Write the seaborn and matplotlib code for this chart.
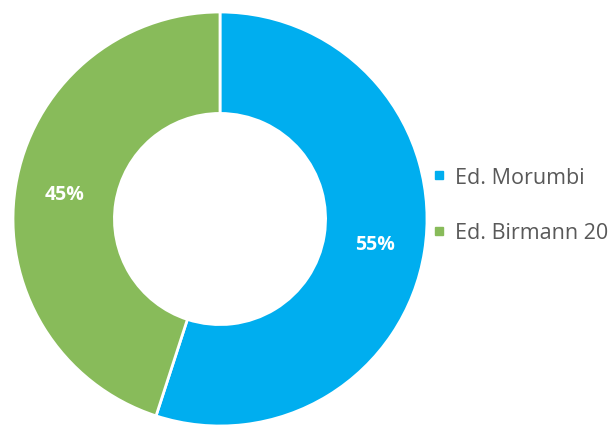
import matplotlib
matplotlib.use("Agg")
import matplotlib.pyplot as plt
import seaborn as sns
from matplotlib.lines import Line2D

# ---------------------------------------------------------------------------
labels = ["Ed. Morumbi", "Ed. Birmann 20"]
values = [55, 45]
colors = ["#00AEEF", "#88BB5A"]

# ---------------------------------------------------------------------------
sns.set_style("white")
plt.rcParams['font.family'] = ['Open Sans', 'DejaVu Sans']

fig = plt.figure(figsize=(6.14, 4.27), dpi=100)
W, H = 614, 427
cx, cy, r = 220, 220, 207
ax = fig.add_axes([(cx - r) / W, (H - cy - r) / H, 2 * r / W, 2 * r / H])

wedges, texts, autotexts = ax.pie(
    values, colors=colors, startangle=90, counterclock=False,
    autopct='%1.0f%%', pctdistance=0.76,
    wedgeprops=dict(width=0.49, edgecolor='white', linewidth=2),
    textprops=dict(color='white', fontsize=14, fontweight='bold'),
    radius=1.0,
)
ax.set_xlim(-1, 1)
ax.set_ylim(-1, 1)
ax.set_aspect('auto')
ax.axis('off')

handles = [Line2D([0], [0], marker='s', linestyle='', markersize=6,
                  markerfacecolor=c, markeredgecolor=c) for c in colors]
fig.legend(handles, labels, loc='center left', bbox_to_anchor=(413 / W, (H - 206) / H),
           frameon=False, fontsize=15.5, labelcolor='#595959',
           handlelength=0.6, handletextpad=0.45, labelspacing=1.6)

fig.savefig("out.png", dpi=100)
